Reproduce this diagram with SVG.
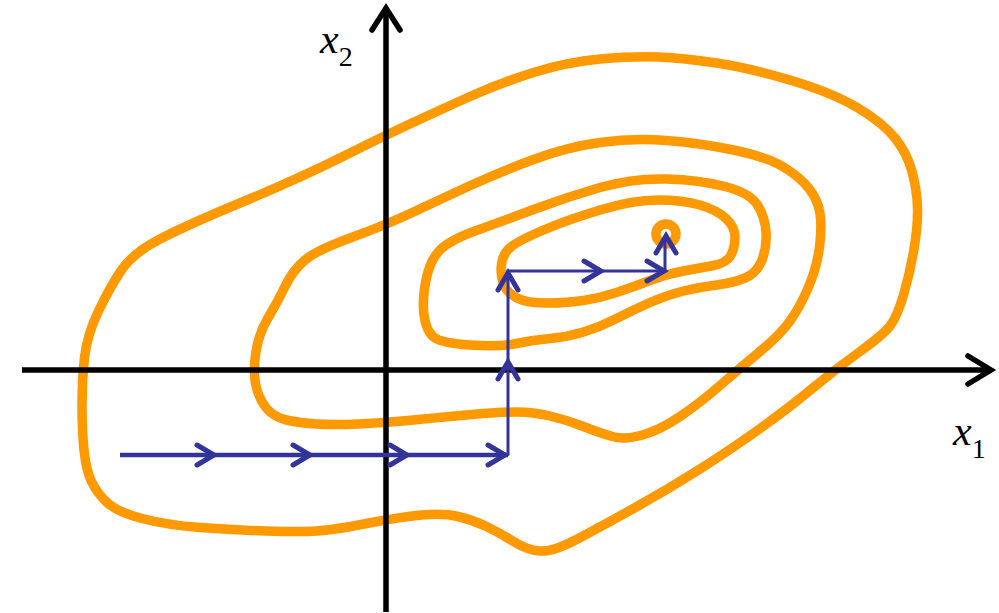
<svg xmlns="http://www.w3.org/2000/svg" xmlns:xlink="http://www.w3.org/1999/xlink" width="999" height="613" viewBox="0 0 999 613">
<style>
.contour{fill:none;stroke:#FF9900;stroke-width:9.5;stroke-linejoin:round}
.axis{fill:none;stroke:#000;stroke-width:5.5}
.axhead{fill:none;stroke:#000;stroke-width:5.5;stroke-linecap:round;stroke-linejoin:miter}
.path{fill:none;stroke:#333399;stroke-width:3}
.path.thick{stroke-width:4.5}
.chev{fill:none;stroke:#333399;stroke-width:5;stroke-linecap:round;stroke-linejoin:miter}
.lbl{font-family:"Liberation Serif","Times New Roman",serif;fill:#000}
</style>
<defs>
<path id="chev" class="chev" d="M-17,-10 L0,0 L-17,10"/>
</defs>
<rect width="999" height="613" fill="#fff"/>
<g id="contours">
<path id="c1" class="contour" d="M343,156.5 Q386,135 413,122.5 Q440,110 470,96.5 Q500,83 533.5,72.5 Q567,62 600,59 Q633,56 658,57 Q683,58 716.5,63 Q750,68 791.5,80.5 Q833,93 858,108 Q883,123 895,138 Q907,153 912,171.5 Q917,190 917.5,207.5 Q918,225 914,249 Q910,273 903.5,295 Q897,317 890,326 Q883,335 860,351.5 Q837,368 813.5,387.5 Q790,407 761.5,427.5 Q733,448 700,469 Q667,490 633.5,508.5 Q600,527 576.5,539.5 Q553,552 540,551 Q527,550 513.5,541.5 Q500,533 486.5,526.5 Q473,520 458,516.5 Q443,513 421.5,515 Q400,517 366.5,523.5 Q333,530 316.5,531 Q300,532 266.5,531 Q233,530 200,527.5 Q167,525 142,518.5 Q117,512 107,502.5 Q97,493 91.5,481.5 Q86,470 84,450 Q82,430 82,405 Q82,380 84.5,357.5 Q87,335 98.5,311 Q110,287 121.5,270 Q133,253 160,239 Q187,225 243.5,201.5 Q300,178 343,156.5 Z"/>
<path id="c2" class="contour" d="M351.5,237.5 Q386,225 414.5,211.5 Q443,198 471.5,185 Q500,172 533.5,159.5 Q567,147 600,142.5 Q633,138 666.5,140.5 Q700,143 733.5,150 Q767,157 783.5,167 Q800,177 809,188.5 Q818,200 820,213.5 Q822,227 819.5,247 Q817,267 808.5,287 Q800,307 790,321 Q780,335 760,351.5 Q740,368 720,385.5 Q700,403 680,416.5 Q660,430 642.5,435 Q625,440 612.5,436.5 Q600,433 583.5,426.5 Q567,420 550,416 Q533,412 516.5,412 Q500,412 466.5,415 Q433,418 408,420.5 Q383,423 358,424 Q333,425 316.5,424 Q300,423 286.5,420 Q273,417 265.5,407 Q258,397 255.5,383.5 Q253,370 256,351.5 Q259,333 268,318 Q277,303 285,286.5 Q293,270 305,260 Q317,250 351.5,237.5 Z"/>
<path id="c3" class="contour" d="M475,231 Q500,222 533.5,209.5 Q567,197 600,187.5 Q633,178 666.5,179 Q700,180 725,186.5 Q750,193 757.5,205 Q765,217 766,232 Q767,247 762,260 Q757,273 745,278 Q733,283 716.5,285 Q700,287 683.5,291 Q667,295 650,302.5 Q633,310 616.5,318.5 Q600,327 583.5,332 Q567,337 550,338.5 Q533,340 516.5,343.5 Q500,347 470,345 Q440,343 433,336.5 Q426,330 424,315 Q422,300 426,280 Q430,260 440,250 Q450,240 475,231 Z"/>
<path id="c4" class="contour" d="M501.5,264 Q503,253 511.5,246.5 Q520,240 543.5,230 Q567,220 600,210 Q633,200 658,200 Q683,200 700,205 Q717,210 726,218.5 Q735,227 735,237 Q735,247 731,255 Q727,263 713.5,265.5 Q700,268 683.5,271 Q667,274 650,280.5 Q633,287 616.5,292.5 Q600,298 583.5,300.5 Q567,303 547,303 Q527,303 517,298 Q507,293 503.5,284 Q500,275 501.5,264 Z"/>
<circle id="c5" class="contour" cx="666" cy="234" r="10"/>
</g>
<g id="axes">
<line class="axis" x1="22" y1="370" x2="990" y2="370"/>
<path class="axhead" d="M968,356 L991,370 L968,384"/>
<line class="axis" x1="386" y1="612" x2="386" y2="10"/>
<path class="axhead" d="M372,30 L386,8 L400,30"/>
</g>
<g id="connectors">
<path class="path thick" d="M120,455 L508,455"/>
<path class="path" d="M508,455 L508,271 L665,271 L665,238"/>
<use xlink:href="#chev" href="#chev" transform="translate(214,455)"/>
<use xlink:href="#chev" href="#chev" transform="translate(310,455)"/>
<use xlink:href="#chev" href="#chev" transform="translate(407,455)"/>
<use xlink:href="#chev" href="#chev" transform="translate(505,455)"/>
<use xlink:href="#chev" href="#chev" transform="translate(508,362) rotate(-90)"/>
<use xlink:href="#chev" href="#chev" transform="translate(508,273) rotate(-90)"/>
<use xlink:href="#chev" href="#chev" transform="translate(601,271)"/>
<use xlink:href="#chev" href="#chev" transform="translate(664,271)"/>
<use xlink:href="#chev" href="#chev" transform="translate(666,236) rotate(-90)"/>
</g>
<g id="labels">
<text class="lbl" x="320" y="53" font-size="42" font-style="italic">x<tspan font-size="28" font-style="normal" dy="13">2</tspan></text>
<text class="lbl" x="953" y="445" font-size="42" font-style="italic">x<tspan font-size="28" font-style="normal" dy="13">1</tspan></text>
</g>
</svg>
